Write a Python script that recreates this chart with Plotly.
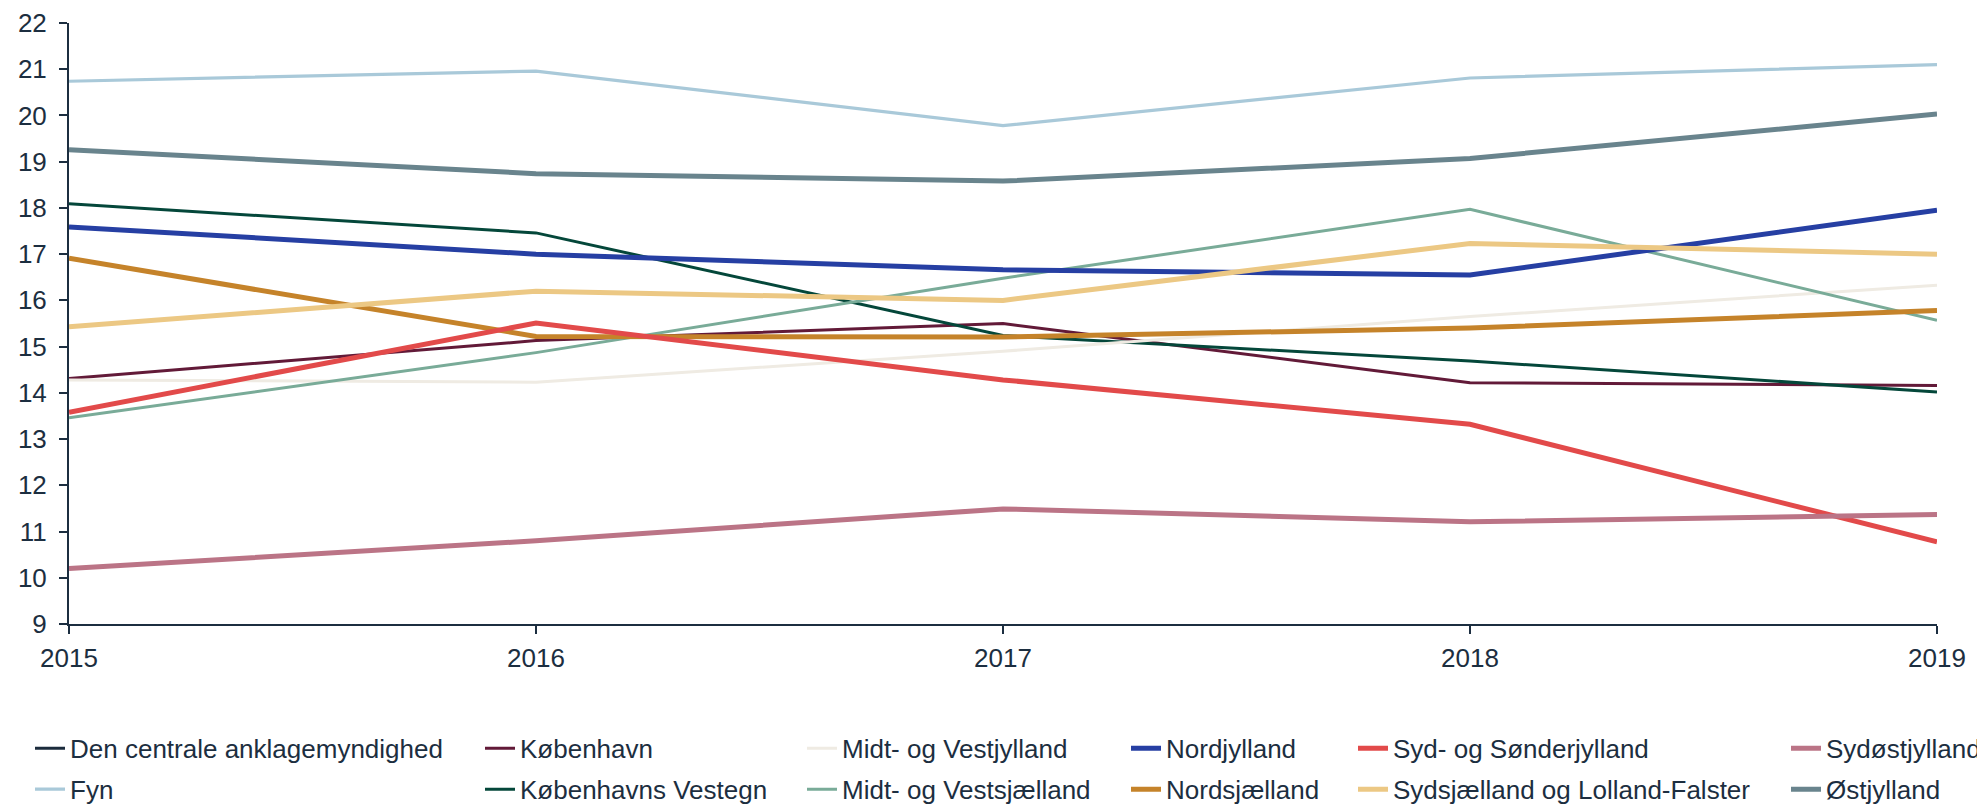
import plotly.graph_objects as go

years = [2015, 2016, 2017, 2018, 2019]

series_names = [
    "Den centrale anklagemyndighed",
    "Fyn",
    "København",
    "Københavns Vestegn",
    "Midt- og Vestjylland",
    "Midt- og Vestsjælland",
    "Nordjylland",
    "Nordsjælland",
    "Syd- og Sønderjylland",
    "Sydsjælland og Lolland-Falster",
    "Sydøstjylland",
    "Østjylland",
]

den_centrale = [None, None, None, None, None]
fyn = [20.74, 20.96, 19.78, 20.81, 21.10]
koebenhavn = [14.31, 15.13, 15.50, 14.22, 14.16]
koebenhavns_vestegn = [18.09, 17.46, 15.24, 14.69, 14.02]
midt_vestjylland = [14.28, 14.23, 14.90, 15.65, 16.33]
midt_vestsjaelland = [13.46, 14.87, 16.48, 17.97, 15.57]
nordjylland = [17.59, 17.00, 16.66, 16.55, 17.95]
nordsjaelland = [16.91, 15.22, 15.21, 15.40, 15.78]
syd_soenderjylland = [13.58, 15.51, 14.28, 13.32, 10.78]
sydsjaelland_lf = [15.43, 16.20, 16.00, 17.23, 17.00]
sydoestjylland = [10.20, 10.80, 11.49, 11.21, 11.37]
oestjylland = [19.26, 18.74, 18.58, 19.07, 20.03]

values = [den_centrale, fyn, koebenhavn, koebenhavns_vestegn, midt_vestjylland,
          midt_vestsjaelland, nordjylland, nordsjaelland, syd_soenderjylland,
          sydsjaelland_lf, sydoestjylland, oestjylland]

colors = ["#1b2b3c", "#a9c9d9", "#621a38", "#04473a", "#efebe3", "#79ab98",
          "#263fa3", "#c5832a", "#e24a4a", "#ecc884", "#bb7486", "#69848d"]
widths = [3, 3.2, 3, 3, 3, 3, 5, 5, 5, 5, 5, 5]

y_ticks = list(range(9, 23))

TXT = "#1c2e40"
FONT = "Arial, Liberation Sans, sans-serif"

# page body has an 8px margin; figure coordinates are screen coordinates minus 8
W, H = 1977, 797
L, R = 61, 1929
T, B = 14.5, 615.7

fig = go.Figure()
for i, (name, vals) in enumerate(zip(series_names, values)):
    lg = "legend" if i == 0 else f"legend{i+1}"
    fig.add_trace(go.Scatter(
        x=years, y=vals, mode="lines", name=name,
        line=dict(color=colors[i], width=widths[i]),
        legend=lg, showlegend=True,
    ))

# legend grid: column-major, two rows
col_text_px = [62, 512, 834, 1158, 1385, 1818]
row_center_px = [740, 781]

layout_legends = {}
for i in range(len(series_names)):
    col, row = divmod(i, 2)
    px = col_text_px[col] - 40
    py = row_center_px[row]
    key = "legend" if i == 0 else f"legend{i+1}"
    layout_legends[key] = dict(
        x=(px - L) / (R - L), y=(B - py) / (B - T),
        xanchor="left", yanchor="middle", orientation="v",
        font=dict(family=FONT, size=26, color=TXT),
        bgcolor="rgba(0,0,0,0)", borderwidth=0,
    )

fig.update_layout(
    width=W, height=H,
    margin=dict(l=L, r=W - R, t=T, b=H - B, pad=0, autoexpand=False),
    paper_bgcolor="white", plot_bgcolor="white",
    font=dict(family=FONT, size=26, color=TXT),
    xaxis=dict(
        range=[2015, 2019], tickvals=years, ticktext=[str(y) for y in years],
        showgrid=False, zeroline=False, showline=True, linecolor=TXT, linewidth=2,
        ticks="outside", ticklen=8, tickwidth=2, tickcolor=TXT,
        tickfont=dict(family=FONT, size=26, color=TXT), ticklabelstandoff=2,
    ),
    yaxis=dict(
        range=[9, 22], tickvals=y_ticks,
        showgrid=False, zeroline=False, showline=True, linecolor=TXT, linewidth=2,
        ticks="outside", ticklen=8, tickwidth=2, tickcolor=TXT,
        tickfont=dict(family=FONT, size=26, color=TXT), ticklabelstandoff=7,
    ),
    **layout_legends,
)

fig.write_html("out.html")
